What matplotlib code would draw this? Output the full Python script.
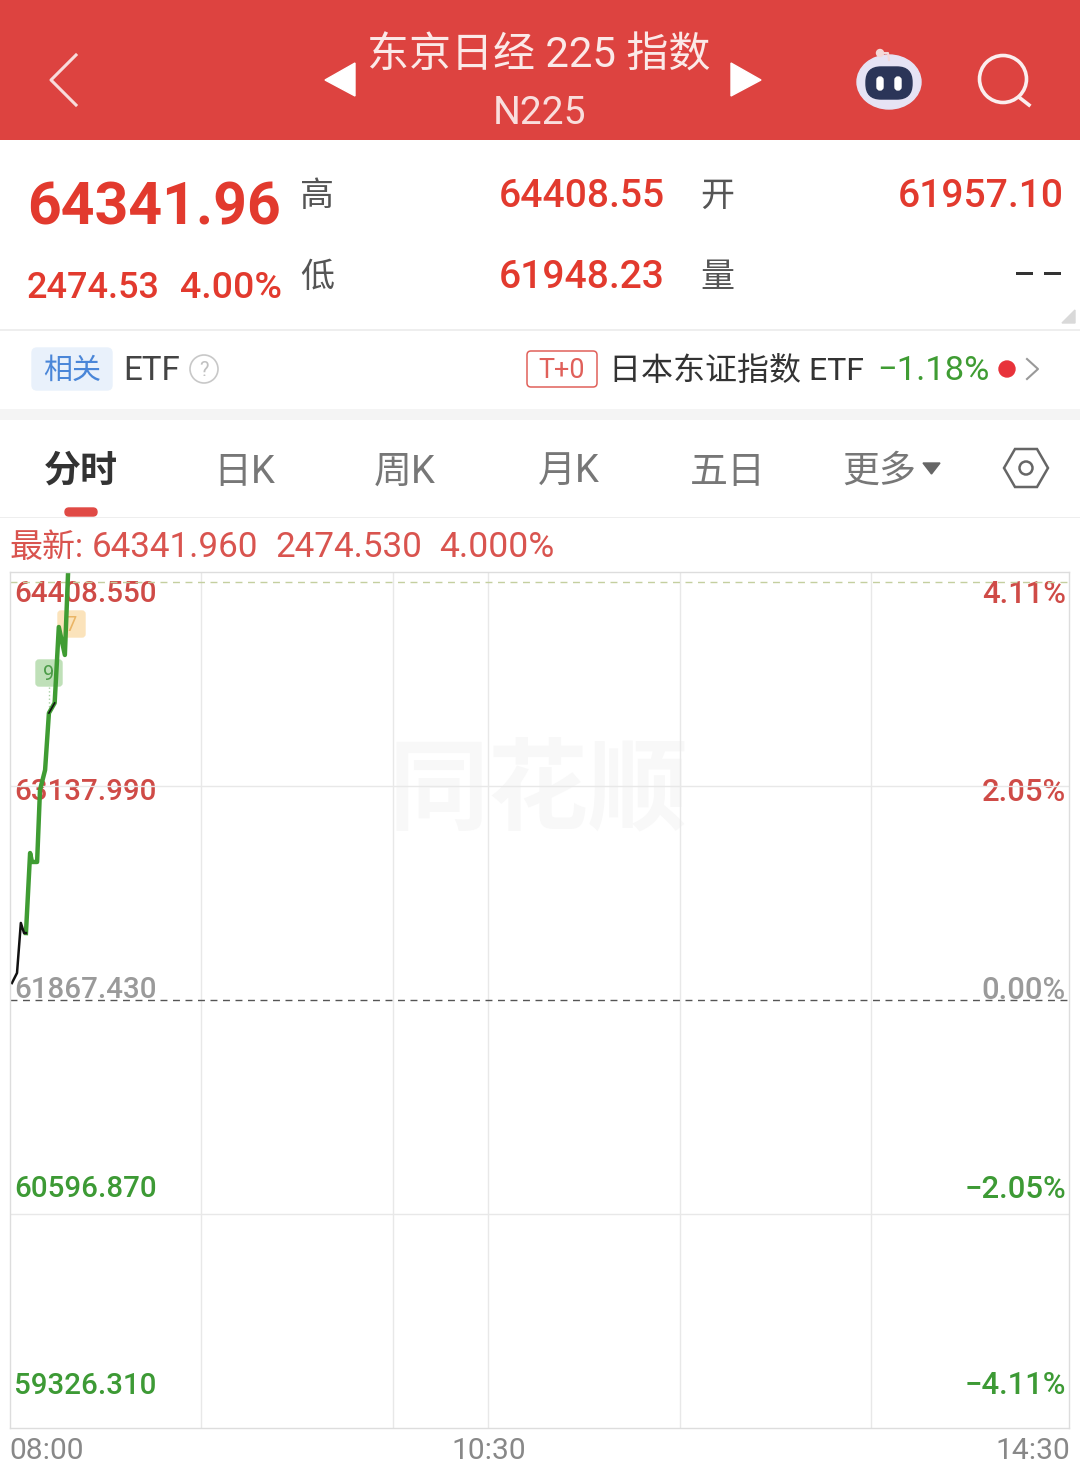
import matplotlib
matplotlib.use('Agg')
import matplotlib.pyplot as plt
from matplotlib.patches import Rectangle, FancyBboxPatch, Circle, Polygon, Ellipse

plt.rcParams['font.family'] = ['Roboto', 'Noto Sans CJK SC', 'DejaVu Sans']

# --- data ---
black_min = [0.6, 2.2, 3.4, 4.4, 5.0]
black_val = [61968, 62028, 62325, 62265, 62265]
green_min = [5.0, 6.3, 6.9, 8.5, 9.4, 11.0, 12.2, 14.0, 15.3, 17.2, 18.2]
green_val = [62265, 62740, 62687, 62687, 63114, 63233, 63571, 63631, 64082, 63916, 64402]
small_min = [12.2, 14.0]
small_val = [63571, 63631]
grid_minutes = [60, 120, 150, 210, 270]
value_ticks = [63137.99, 60596.87]
prev_close = 61867.43
latest = 64349
y_low, y_high = 59326.31, 64408.55
x_span = 332
left_labels = ['64408.550', '63137.990', '61867.430', '60596.870', '59326.310']
right_labels = ['4.11%', '2.05%', '0.00%', '\u22122.05%', '\u22124.11%']
label_colors = ['#cf4b47', '#cf4b47', '#9a9a9a', '#3d9a35', '#3d9a35']
time_labels = ['08:00', '10:30', '14:30']
tabs = ['日K', '周K', '月K', '五日']

NUM = '#e23a2e'
GREEN = '#3f9c33'
BAR = '#dd4340'

W, H = 1080, 1470
fig = plt.figure(figsize=(W/100, H/100), dpi=100, facecolor='white')
ui = fig.add_axes([0, 0, 1, 1], zorder=1)
ui.set_xlim(0, W); ui.set_ylim(H, 0); ui.axis('off')


def T(x, y, s, px, color='#333333', ha='left', weight='normal', **kw):
    ui.text(x, y, s, fontsize=px/1.389, color=color, ha=ha, va='center', fontweight=weight, **kw)


def R(x, y, w, h, c, **kw):
    ui.add_patch(Rectangle((x, y), w, h, facecolor=c, edgecolor='none', **kw))


# header
R(0, 0, W, 140, BAR)
ui.plot([76, 51, 76], [55, 80, 105], color='#f8dcdb', lw=2.2)
ui.add_patch(Polygon([[355, 63], [355, 96], [325, 80]], color='white'))
ui.add_patch(Polygon([[731, 63], [731, 96], [761, 80]], color='white'))
T(539, 56, '东京日经 225 指数', 42, '#fbe9e8', ha='center')
T(540, 113, 'N225', 39, '#f9dedd', ha='center')
# robot icon
ui.add_patch(Ellipse((889, 82), 64, 54, color='#e6e3f4'))
ui.add_patch(FancyBboxPatch((866, 67), 46, 32, boxstyle='round,pad=0,rounding_size=15', color='#2b3558'))
ui.add_patch(FancyBboxPatch((877, 77), 6, 13, boxstyle='round,pad=0,rounding_size=3', color='white'))
ui.add_patch(FancyBboxPatch((895, 77), 6, 13, boxstyle='round,pad=0,rounding_size=3', color='white'))
ui.add_patch(Circle((880, 53), 3.5, color='#f4d9d8'))
ui.plot([880, 888, 889], [53, 53, 60], color='#f4d9d8', lw=1.5)
# search icon
ui.add_patch(Circle((1003, 79), 23.5, facecolor='none', edgecolor='#fbeeee', lw=2.6))
ui.plot([1020, 1029], [98, 105], color='#fbeeee', lw=2.6)

# quote block
T(27, 208, '64341.96', 59, NUM, weight='bold')
T(27, 288, '2474.53', 36, NUM, weight='medium')
T(180, 288, '4.00%', 37.5, NUM, weight='medium')
T(300, 197, '高', 34, '#555555')
T(300, 278, '低', 34, '#555555')
T(499, 196, '64408.55', 39, NUM, weight='medium')
T(499, 277, '61948.23', 39, NUM, weight='medium')
T(700, 197, '开', 34, '#555555')
T(700, 278, '量', 34, '#555555')
T(1064, 196, '61957.10', 39, NUM, ha='right', weight='medium')
R(1016, 272, 17, 3, '#333333'); R(1044, 272, 17, 3, '#333333')
ui.add_patch(Polygon([[1075, 323], [1062, 323], [1075, 310]], color='#d9d9d9'))
R(0, 329, W, 1.5, '#eeeeee')

# related row
ui.add_patch(FancyBboxPatch((32, 348), 80, 42, boxstyle='round,pad=0,rounding_size=5', color='#e9f1fb'))
T(72, 371, '相关', 29, '#4a86d8', ha='center')
T(123, 371, 'ETF', 33, '#444444')
ui.add_patch(Circle((204, 369), 14, facecolor='none', edgecolor='#c8c8c8', lw=1.2))
T(204, 370, '?', 20, '#c0c0c0', ha='center')
ui.add_patch(FancyBboxPatch((527, 351), 70, 36, boxstyle='round,pad=0,rounding_size=4',
                            facecolor='white', edgecolor='#e0605a', lw=1.1))
T(562, 370, 'T+0', 27, '#e0605a', ha='center')
T(609, 372, '日本东证指数 ETF', 32, '#333333')
T(877, 371, '\u22121.18%', 34.5, GREEN)
ui.add_patch(Circle((1007, 369), 8, color='#e8323a'))
ui.plot([1027, 1038, 1027], [359, 369, 379], color='#999999', lw=1.5)
R(0, 409, W, 11, '#f4f4f4')

# tabs
T(81, 472, '分时', 37, '#333333', ha='center', weight='bold')
for s, x in zip(tabs, [244, 405, 569, 728]):
    T(x, 472, s, 38, '#777777', ha='center')
T(879, 472, '更多', 37, '#777777', ha='center')
ui.add_patch(Polygon([[923, 463], [940, 463], [931.5, 474]], color='#666666'))
ui.add_patch(Polygon([[1004, 468], [1015, 449], [1037, 449], [1048, 468], [1037, 487], [1015, 487]],
                     facecolor='none', edgecolor='#666666', lw=1.8))
ui.add_patch(Circle((1026, 468), 6.5, facecolor='none', edgecolor='#666666', lw=1.8))
ui.add_patch(FancyBboxPatch((65, 508), 32, 8, boxstyle='round,pad=0,rounding_size=4', color='#e04a45'))
R(0, 517, W, 1.2, '#eeeeee')
T(9, 548, '最新:', 33, '#d9544f')
T(92, 547, '64341.960', 35, '#d9544f')
T(275, 547, '2474.530', 35, '#d9544f')
T(439, 547, '4.000%', 35.5, '#d9544f')

# watermark
T(538, 794, '同花顺', 100, '#f8f8f8', ha='center', weight='bold', style='italic')

# value and time labels
for s, r, c, y in zip(left_labels, right_labels, label_colors, [594, 792, 990, 1189, 1386]):
    T(14, y, s, 29.5, c, weight='medium')
    T(1066, y, r, 31, c, ha='right', weight='medium')
for s, x, ha in zip(time_labels, [9, 489, 1070], ['left', 'center', 'right']):
    T(x, 1451, s, 30, '#888888', ha=ha)

# badges
ui.add_patch(FancyBboxPatch((36, 660), 26, 26, boxstyle='round,pad=0,rounding_size=3', color='#bfe0b8'))
T(49, 674, '9', 20, '#4c9c48', ha='center')
ui.plot([49, 49], [687, 708], color='#a8cfa3', lw=1, ls=':')
ui.add_patch(FancyBboxPatch((58, 611), 27, 26, boxstyle='round,pad=0,rounding_size=3', color='#fbe3bb'))
T(71, 625, '7', 20, '#eab566', ha='center')

# chart
ax = fig.add_axes([10/W, 1-1428/H, 1059/W, 856/H], zorder=2)
ax.patch.set_alpha(0)
ax.set_xlim(0, x_span); ax.set_ylim(y_low, y_high)
ax.set_xticks([]); ax.set_yticks([])
for s in ax.spines.values():
    s.set_color('#dddddd'); s.set_linewidth(1)
for m in grid_minutes:
    ax.axvline(m, color='#e8e8e8', lw=1)
for v in value_ticks:
    ax.axhline(v, color='#e8e8e8', lw=1)
ax.axhline(prev_close, color='#555555', lw=1, dashes=(5, 4))
ax.axhline(latest, color='#c4cf9f', lw=1, dashes=(5, 4))
ax.plot(green_min, green_val, color=GREEN, lw=3.2, solid_joinstyle='round')
ax.plot(black_min, black_val, color='#111111', lw=1.8)
ax.plot(small_min, small_val, color='#111111', lw=1.2)

fig.savefig('out.png', dpi=100)
